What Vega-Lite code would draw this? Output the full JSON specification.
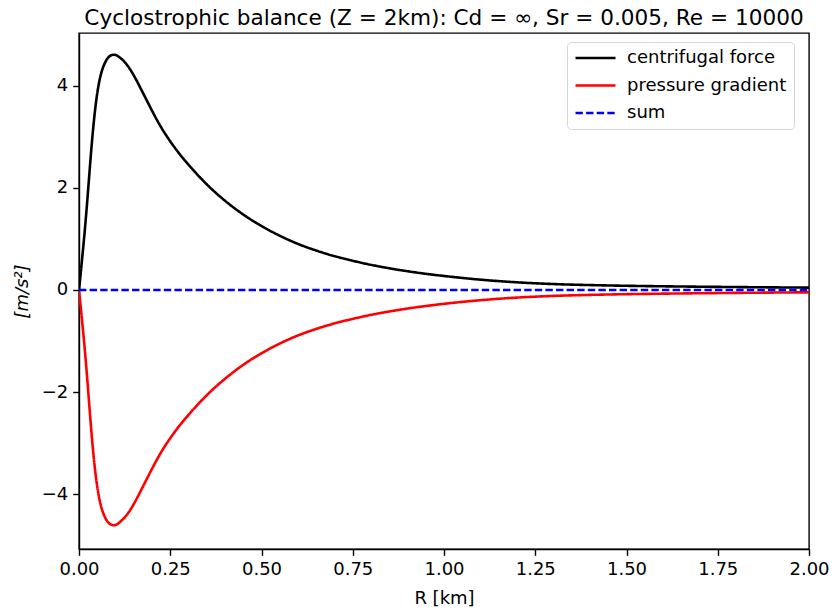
{
  "$schema": "https://vega.github.io/schema/vega-lite/v6.json",
  "width": 730,
  "height": 516,
  "autosize": {"type": "none"},
  "padding": {"left": 79, "top": 33, "right": 23, "bottom": 63},
  "background": "white",
  "config": {
    "font": "DejaVu Sans",
    "view": {"stroke": "black", "strokeWidth": 1.4},
    "axis": {
      "domainColor": "black", "domainWidth": 1.4,
      "tickColor": "black", "tickWidth": 1.4, "tickSize": 6.3,
      "labelFont": "DejaVu Sans", "labelFontSize": 18, "labelColor": "black",
      "titleFont": "DejaVu Sans", "titleFontSize": 18, "titleFontWeight": "normal", "titleColor": "black",
      "grid": false
    }
  },
  "title": {
    "text": "Cyclostrophic balance (Z = 2km): Cd = ∞, Sr = 0.005, Re = 10000",
    "font": "DejaVu Sans", "fontSize": 21.6, "fontWeight": "normal", "color": "black",
    "anchor": "middle", "baseline": "bottom", "offset": -19
  },
  "data": {"values": [
    {"r": 0, "v": 0, "s": "centrifugal force"},
    {"r": 0.005, "v": 0.35, "s": "centrifugal force"},
    {"r": 0.01, "v": 0.72, "s": "centrifugal force"},
    {"r": 0.015, "v": 1.1, "s": "centrifugal force"},
    {"r": 0.02, "v": 1.51, "s": "centrifugal force"},
    {"r": 0.025, "v": 1.96, "s": "centrifugal force"},
    {"r": 0.03, "v": 2.42, "s": "centrifugal force"},
    {"r": 0.035, "v": 2.86, "s": "centrifugal force"},
    {"r": 0.04, "v": 3.25, "s": "centrifugal force"},
    {"r": 0.045, "v": 3.58, "s": "centrifugal force"},
    {"r": 0.05, "v": 3.85, "s": "centrifugal force"},
    {"r": 0.055, "v": 4.06, "s": "centrifugal force"},
    {"r": 0.06, "v": 4.22, "s": "centrifugal force"},
    {"r": 0.065, "v": 4.34, "s": "centrifugal force"},
    {"r": 0.07, "v": 4.43, "s": "centrifugal force"},
    {"r": 0.075, "v": 4.5, "s": "centrifugal force"},
    {"r": 0.08, "v": 4.55, "s": "centrifugal force"},
    {"r": 0.085, "v": 4.58, "s": "centrifugal force"},
    {"r": 0.09, "v": 4.6, "s": "centrifugal force"},
    {"r": 0.095, "v": 4.605, "s": "centrifugal force"},
    {"r": 0.1, "v": 4.6, "s": "centrifugal force"},
    {"r": 0.105, "v": 4.585, "s": "centrifugal force"},
    {"r": 0.11, "v": 4.56, "s": "centrifugal force"},
    {"r": 0.12, "v": 4.5, "s": "centrifugal force"},
    {"r": 0.13, "v": 4.42, "s": "centrifugal force"},
    {"r": 0.14, "v": 4.32, "s": "centrifugal force"},
    {"r": 0.15, "v": 4.2, "s": "centrifugal force"},
    {"r": 0.16, "v": 4.07, "s": "centrifugal force"},
    {"r": 0.17, "v": 3.93, "s": "centrifugal force"},
    {"r": 0.18, "v": 3.79, "s": "centrifugal force"},
    {"r": 0.19, "v": 3.65, "s": "centrifugal force"},
    {"r": 0.2, "v": 3.51, "s": "centrifugal force"},
    {"r": 0.225, "v": 3.185, "s": "centrifugal force"},
    {"r": 0.25, "v": 2.91, "s": "centrifugal force"},
    {"r": 0.275, "v": 2.667, "s": "centrifugal force"},
    {"r": 0.3, "v": 2.452, "s": "centrifugal force"},
    {"r": 0.33, "v": 2.215, "s": "centrifugal force"},
    {"r": 0.36, "v": 1.999, "s": "centrifugal force"},
    {"r": 0.4, "v": 1.747, "s": "centrifugal force"},
    {"r": 0.45, "v": 1.477, "s": "centrifugal force"},
    {"r": 0.5, "v": 1.252, "s": "centrifugal force"},
    {"r": 0.55, "v": 1.062, "s": "centrifugal force"},
    {"r": 0.6, "v": 0.902, "s": "centrifugal force"},
    {"r": 0.65, "v": 0.772, "s": "centrifugal force"},
    {"r": 0.7, "v": 0.662, "s": "centrifugal force"},
    {"r": 0.75, "v": 0.572, "s": "centrifugal force"},
    {"r": 0.8, "v": 0.492, "s": "centrifugal force"},
    {"r": 0.85, "v": 0.425, "s": "centrifugal force"},
    {"r": 0.9, "v": 0.367, "s": "centrifugal force"},
    {"r": 0.95, "v": 0.317, "s": "centrifugal force"},
    {"r": 1.0, "v": 0.274, "s": "centrifugal force"},
    {"r": 1.1, "v": 0.202, "s": "centrifugal force"},
    {"r": 1.2, "v": 0.15, "s": "centrifugal force"},
    {"r": 1.3, "v": 0.116, "s": "centrifugal force"},
    {"r": 1.4, "v": 0.096, "s": "centrifugal force"},
    {"r": 1.5, "v": 0.082, "s": "centrifugal force"},
    {"r": 1.6, "v": 0.072, "s": "centrifugal force"},
    {"r": 1.7, "v": 0.064, "s": "centrifugal force"},
    {"r": 1.8, "v": 0.057, "s": "centrifugal force"},
    {"r": 1.9, "v": 0.051, "s": "centrifugal force"},
    {"r": 2.0, "v": 0.046, "s": "centrifugal force"},
    {"r": 0, "v": 0, "s": "pressure gradient"},
    {"r": 0.005, "v": -0.35, "s": "pressure gradient"},
    {"r": 0.01, "v": -0.72, "s": "pressure gradient"},
    {"r": 0.015, "v": -1.1, "s": "pressure gradient"},
    {"r": 0.02, "v": -1.51, "s": "pressure gradient"},
    {"r": 0.025, "v": -1.96, "s": "pressure gradient"},
    {"r": 0.03, "v": -2.42, "s": "pressure gradient"},
    {"r": 0.035, "v": -2.86, "s": "pressure gradient"},
    {"r": 0.04, "v": -3.25, "s": "pressure gradient"},
    {"r": 0.045, "v": -3.58, "s": "pressure gradient"},
    {"r": 0.05, "v": -3.85, "s": "pressure gradient"},
    {"r": 0.055, "v": -4.06, "s": "pressure gradient"},
    {"r": 0.06, "v": -4.22, "s": "pressure gradient"},
    {"r": 0.065, "v": -4.34, "s": "pressure gradient"},
    {"r": 0.07, "v": -4.43, "s": "pressure gradient"},
    {"r": 0.075, "v": -4.5, "s": "pressure gradient"},
    {"r": 0.08, "v": -4.55, "s": "pressure gradient"},
    {"r": 0.085, "v": -4.58, "s": "pressure gradient"},
    {"r": 0.09, "v": -4.6, "s": "pressure gradient"},
    {"r": 0.095, "v": -4.605, "s": "pressure gradient"},
    {"r": 0.1, "v": -4.6, "s": "pressure gradient"},
    {"r": 0.105, "v": -4.583, "s": "pressure gradient"},
    {"r": 0.11, "v": -4.555, "s": "pressure gradient"},
    {"r": 0.12, "v": -4.49, "s": "pressure gradient"},
    {"r": 0.13, "v": -4.41, "s": "pressure gradient"},
    {"r": 0.14, "v": -4.31, "s": "pressure gradient"},
    {"r": 0.15, "v": -4.19, "s": "pressure gradient"},
    {"r": 0.16, "v": -4.06, "s": "pressure gradient"},
    {"r": 0.17, "v": -3.92, "s": "pressure gradient"},
    {"r": 0.18, "v": -3.78, "s": "pressure gradient"},
    {"r": 0.19, "v": -3.64, "s": "pressure gradient"},
    {"r": 0.2, "v": -3.5, "s": "pressure gradient"},
    {"r": 0.225, "v": -3.176, "s": "pressure gradient"},
    {"r": 0.25, "v": -2.901, "s": "pressure gradient"},
    {"r": 0.275, "v": -2.659, "s": "pressure gradient"},
    {"r": 0.3, "v": -2.444, "s": "pressure gradient"},
    {"r": 0.33, "v": -2.207, "s": "pressure gradient"},
    {"r": 0.36, "v": -1.991, "s": "pressure gradient"},
    {"r": 0.4, "v": -1.738, "s": "pressure gradient"},
    {"r": 0.45, "v": -1.465, "s": "pressure gradient"},
    {"r": 0.5, "v": -1.238, "s": "pressure gradient"},
    {"r": 0.55, "v": -1.049, "s": "pressure gradient"},
    {"r": 0.6, "v": -0.89, "s": "pressure gradient"},
    {"r": 0.65, "v": -0.762, "s": "pressure gradient"},
    {"r": 0.7, "v": -0.654, "s": "pressure gradient"},
    {"r": 0.75, "v": -0.566, "s": "pressure gradient"},
    {"r": 0.8, "v": -0.487, "s": "pressure gradient"},
    {"r": 0.85, "v": -0.421, "s": "pressure gradient"},
    {"r": 0.9, "v": -0.363, "s": "pressure gradient"},
    {"r": 0.95, "v": -0.314, "s": "pressure gradient"},
    {"r": 1.0, "v": -0.271, "s": "pressure gradient"},
    {"r": 1.1, "v": -0.2, "s": "pressure gradient"},
    {"r": 1.2, "v": -0.149, "s": "pressure gradient"},
    {"r": 1.3, "v": -0.116, "s": "pressure gradient"},
    {"r": 1.4, "v": -0.096, "s": "pressure gradient"},
    {"r": 1.5, "v": -0.082, "s": "pressure gradient"},
    {"r": 1.6, "v": -0.072, "s": "pressure gradient"},
    {"r": 1.7, "v": -0.064, "s": "pressure gradient"},
    {"r": 1.8, "v": -0.057, "s": "pressure gradient"},
    {"r": 1.9, "v": -0.051, "s": "pressure gradient"},
    {"r": 2.0, "v": -0.046, "s": "pressure gradient"},
    {"r": 0, "v": 0, "s": "sum"},
    {"r": 0.25, "v": 0, "s": "sum"},
    {"r": 0.5, "v": 0, "s": "sum"},
    {"r": 0.75, "v": 0, "s": "sum"},
    {"r": 1.0, "v": 0, "s": "sum"},
    {"r": 1.25, "v": 0, "s": "sum"},
    {"r": 1.5, "v": 0, "s": "sum"},
    {"r": 1.75, "v": 0, "s": "sum"},
    {"r": 2.0, "v": 0, "s": "sum"}
  ]},
  "mark": {"type": "line", "strokeWidth": 2.6, "interpolate": "monotone", "clip": true},
  "encoding": {
    "x": {
      "field": "r", "type": "quantitative", "title": "R [km]",
      "scale": {"domain": [0, 2], "nice": false, "zero": false},
      "axis": {"values": [0, 0.25, 0.5, 0.75, 1, 1.25, 1.5, 1.75, 2], "format": ".2f", "labelPadding": 5, "titlePadding": 11, "labelFlush": false}
    },
    "y": {
      "field": "v", "type": "quantitative", "title": "[m/s²]",
      "scale": {"domain": [-5.07, 5.03], "nice": false, "zero": false},
      "axis": {"values": [-4, -2, 0, 2, 4], "labelExpr": "datum.value < 0 ? '−' + format(-datum.value, 'd') : format(datum.value, 'd')", "labelPadding": 5, "titlePadding": 10, "titleFontStyle": "italic"}
    },
    "color": {
      "field": "s", "type": "nominal", "title": null,
      "scale": {"domain": ["centrifugal force", "pressure gradient", "sum"], "range": ["#000000", "#ff0000", "#0000ff"]},
      "legend": {
        "orient": "none", "legendX": 488, "legendY": 9,
        "symbolType": "stroke", "symbolSize": 1600, "symbolStrokeWidth": 2.6,
        "labelFontSize": 18, "labelFont": "DejaVu Sans", "labelColor": "black", "labelOffset": 10,
        "clipHeight": 18, "rowPadding": 9.5, "padding": 7,
        "strokeColor": "#d6d6d6", "fillColor": "white", "cornerRadius": 4
      }
    },
    "strokeDash": {
      "field": "s", "type": "nominal", "title": null,
      "scale": {"domain": ["centrifugal force", "pressure gradient", "sum"], "range": [[1, 0], [1, 0], [7.4, 3.2]]}
    }
  }
}
